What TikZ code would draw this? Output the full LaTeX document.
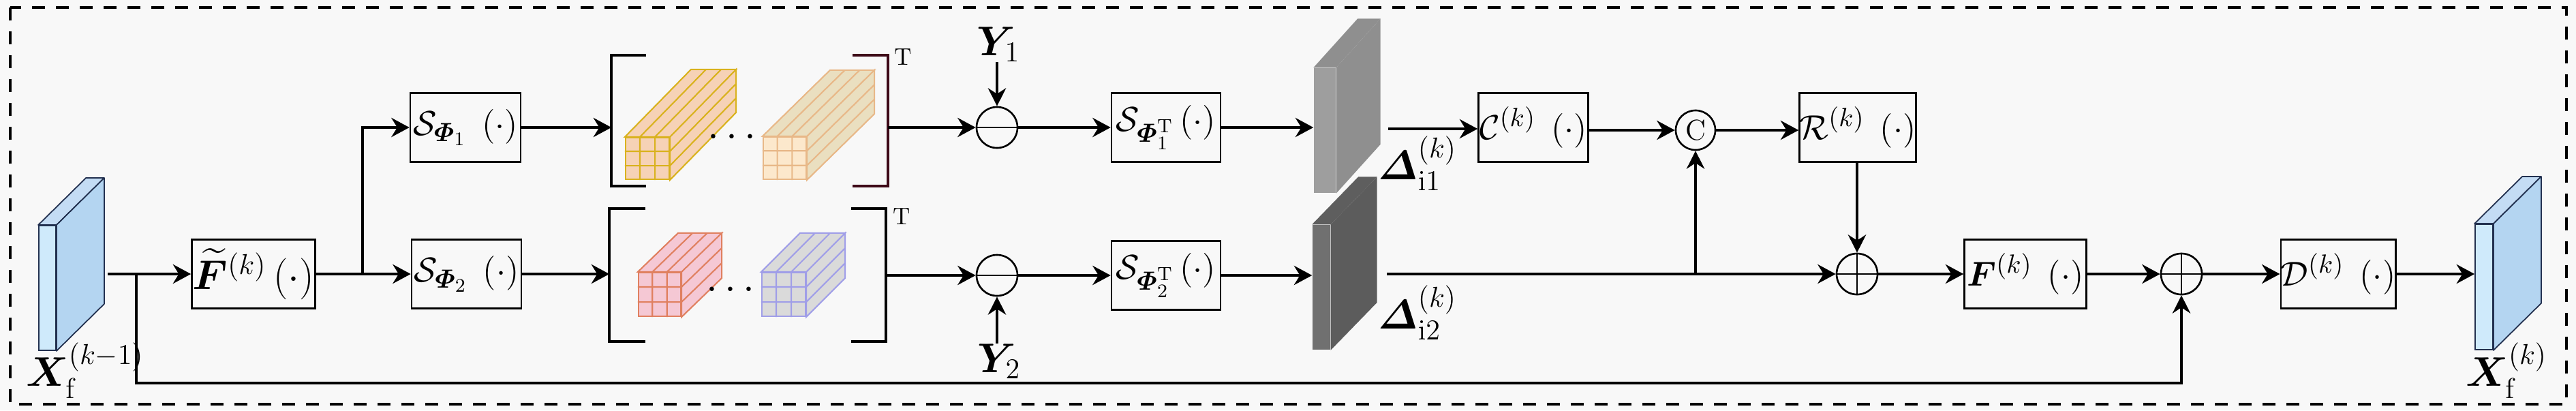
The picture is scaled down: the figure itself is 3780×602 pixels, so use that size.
\documentclass[tikz,border=0pt]{standalone}
\usepackage{amsmath,bm}
\usetikzlibrary{arrows.meta,calc,positioning}

\definecolor{paper}{HTML}{F8F8F8}
\definecolor{featfront}{HTML}{CFEAFB}
\definecolor{featside}{HTML}{B4D5F1}
\definecolor{feattop}{HTML}{C4DCF4}
\definecolor{featedge}{HTML}{22304F}
\definecolor{peach}{HTML}{F6D2B6}
\definecolor{gold}{HTML}{D9B21E}
\definecolor{cream}{HTML}{FCE8CC}
\definecolor{sage}{HTML}{EADFC0}
\definecolor{tanline}{HTML}{E8B888}
\definecolor{rose}{HTML}{F5C8D4}
\definecolor{coral}{HTML}{E08060}
\definecolor{ash}{HTML}{DADADA}
\definecolor{lilac}{HTML}{A09EE8}
\definecolor{maroon}{HTML}{3E0A18}

% cube with a 3x3 grid: name, centre, size, depth, front fill, side fill, line colour
\newcommand{\gridcube}[7]{%
  \node[cubeface, #3, fill=#5, draw=#7] (#1) at #2 {};
  \filldraw[fill=#6, draw=#7, line width=0.6pt]
    (#1.north west) -- (#1.north east) -- ($(#1.north east)+#4$) -- ($(#1.north west)+#4$) -- cycle
    (#1.north east) -- (#1.south east) -- ($(#1.south east)+#4$) -- ($(#1.north east)+#4$) -- cycle;
  \foreach \t in {0.333,0.667}
    \draw[#7, line width=0.6pt]
      ($(#1.north west)!\t!(#1.north east)$) -- ($(#1.south west)!\t!(#1.south east)$)
      ($(#1.north west)!\t!(#1.south west)$) -- ($(#1.north east)!\t!(#1.south east)$)
      ($(#1.north west)!\t!(#1.north east)$) -- ++#4
      ($(#1.north east)!\t!(#1.south east)$) -- ++#4;
}

% top and side faces of a feature slab: name, depth, top fill, side fill, edge
\newcommand{\slab}[5]{%
  \filldraw[fill=#3, draw=#5, line width=0.5pt, line join=round]
    (#1.north west) -- (#1.north east) -- ($(#1.north east)+#2$) -- ($(#1.north west)+#2$) -- cycle;
  \filldraw[fill=#4, draw=#5, line width=0.5pt, line join=round]
    (#1.north east) -- (#1.south east) -- ($(#1.south east)+#2$) -- ($(#1.north east)+#2$) -- cycle;
}

\begin{document}
\begin{tikzpicture}[x=0.01cm, y=-0.01cm,
    blockbox/.style  = {draw, line width=0.7pt, minimum height=1.01cm, inner sep=0, font=\fontsize{15.5}{18}\selectfont},
    opnode/.style    = {circle, draw, line width=0.75pt, minimum size=0.6cm, inner sep=0},
    flow/.style      = {-{Stealth[length=7.5pt,width=8pt]}, line width=1.3pt},
    feed/.style      = {-{Stealth[length=7.5pt,width=7.5pt]}, line width=1.0pt},
    cubeface/.style  = {rectangle, inner sep=0, line width=0.6pt},
    slabface/.style  = {rectangle, inner sep=0},
    mathlabel/.style = {font=\LARGE, inner sep=0},
    bracket/.style   = {line width=1.2pt}]

    \fill[paper] (0,0) rectangle (3780,602);
    \useasboundingbox (0,0) rectangle (3780,602);
    \draw[line width=1.4pt, dash pattern=on 0.19cm off 0.16cm] (15,11) rectangle (3766,593);

    % input and output features
    \node[slabface, fill=featfront, draw=featedge, line width=0.5pt, minimum width=0.25cm, minimum height=1.83cm] (Xin) at (69.5,422.5) {};
    \slab{Xin}{(70,-69)}{feattop}{featside}{featedge}
    \node[mathlabel, anchor=base west] (XinLab) at (38,566) {$\bm{X}_{\mathrm{f}}^{(k-1)}$};

    \node[slabface, fill=featfront, draw=featedge, line width=0.5pt, minimum width=0.26cm, minimum height=1.84cm] (Xout) at (3645,421) {};
    \slab{Xout}{(70,-69)}{feattop}{featside}{featedge}
    \node[mathlabel, anchor=base west] (XoutLab) at (3618,566) {$\bm{X}_{\mathrm{f}}^{(k)}$};

    % blocks
    \node[blockbox, minimum width=1.81cm, font=\LARGE] (Ftil) at (372,402) {$\widetilde{\bm{F}}^{(k)}\left(\cdot\right)$};
    \node[blockbox, minimum width=1.62cm] (S1)   at (683,187)   {$\mathcal{S}_{\bm{\varPhi}_1}\;\left(\cdot\right)$};
    \node[blockbox, minimum width=1.61cm] (S2)   at (684.5,402) {$\mathcal{S}_{\bm{\varPhi}_2}\;\left(\cdot\right)$};
    \node[blockbox, minimum width=1.60cm] (S1T)  at (1711,187)  {$\mathcal{S}_{\bm{\varPhi}_1^{\mathrm{T}}}\left(\cdot\right)$};
    \node[blockbox, minimum width=1.60cm] (S2T)  at (1711,404)  {$\mathcal{S}_{\bm{\varPhi}_2^{\mathrm{T}}}\left(\cdot\right)$};
    \node[blockbox, minimum width=1.61cm] (C)    at (2250,187)  {$\mathcal{C}^{(k)}\;\left(\cdot\right)$};
    \node[blockbox, minimum width=1.59cm] (R)    at (2726,187)  {$\mathcal{R}^{(k)}\;\left(\cdot\right)$};
    \node[blockbox, minimum width=1.79cm] (F)    at (2972,402)  {$\bm{F}^{(k)}\;\left(\cdot\right)$};
    \node[blockbox, minimum width=1.60cm] (D)    at (3431,402)  {$\mathcal{D}^{(k)}\;\left(\cdot\right)$};

    % sampling operators written out as stacked cubes
    \node[minimum width=4.04cm, minimum height=1.90cm, inner sep=0] (Phi1) at (1100,177) {};
    \node[minimum width=4.04cm, minimum height=1.93cm, inner sep=0] (Phi2) at (1097,403.5) {};
    \draw[bracket] ($(Phi1.north west)+(51,0)$) -- (Phi1.north west) -- (Phi1.south west) -- ++(51,0);
    \draw[bracket, maroon] ($(Phi1.north east)+(-52,0)$) -- (Phi1.north east) -- (Phi1.south east) -- ++(-52,0);
    \draw[bracket] ($(Phi2.north west)+(53,0)$) -- (Phi2.north west) -- (Phi2.south west) -- ++(53,0);
    \draw[bracket] ($(Phi2.north east)+(-51,0)$) -- (Phi2.north east) -- (Phi2.south east) -- ++(-51,0);
    \node[inner sep=0, anchor=west] (T1) at (1312,84)  {T};
    \node[inner sep=0, anchor=west] (T2) at (1310,318) {T};

    \gridcube{cubeA}{(950,232.5)}{minimum width=0.64cm, minimum height=0.61cm}{(97,-99)}{peach}{peach}{gold}
    \gridcube{cubeB}{(1151.5,232)}{minimum width=0.63cm, minimum height=0.62cm}{(99,-97)}{cream}{sage}{tanline}
    \gridcube{cubeC}{(968,432)}{minimum width=0.62cm, minimum height=0.64cm}{(59,-57)}{rose}{rose}{coral}
    \gridcube{cubeD}{(1150,432)}{minimum width=0.64cm, minimum height=0.64cm}{(57,-57)}{ash}{ash}{lilac}
    \node[mathlabel] (dots1) at (1079,202) {$\cdots$};
    \node[mathlabel] (dots2) at (1077,426) {$\cdots$};

    % residual operators
    \node[opnode] (minus1) at (1463,187) {};
    \node[opnode] (minus2) at (1463,404) {};
    \draw[line width=0.75pt] (minus1.west) -- (minus1.east);
    \draw[line width=0.75pt] (minus2.west) -- (minus2.east);
    \node[mathlabel, anchor=base west] (Y1) at (1433,81)  {$\bm{Y}_1$};
    \node[mathlabel, anchor=base west] (Y2) at (1434,546) {$\bm{Y}_2$};

    % residual feature slabs
    \node[slabface, fill=black!38, minimum width=0.32cm, minimum height=1.83cm] (D1) at (1944,191.5) {};
    \slab{D1}{(65,-72)}{black!44}{black!44}{none}
    \node[slabface, fill=black!56, minimum width=0.26cm, minimum height=1.83cm] (D2) at (1939,421.5) {};
    \slab{D2}{(68,-70)}{black!63}{black!64}{none}
    \node[mathlabel, anchor=base west] (D1Lab) at (2022,263) {$\bm{\varDelta}_{\mathrm{i1}}^{(k)}$};
    \node[mathlabel, anchor=base west] (D2Lab) at (2022,482) {$\bm{\varDelta}_{\mathrm{i2}}^{(k)}$};

    \node[opnode, minimum size=0.58cm, font=\large] (cat) at (2488,191) {C};
    \node[opnode] (plus1) at (2725,402) {};
    \node[opnode] (plus2) at (3201,402) {};
    \draw[line width=0.75pt] (plus1.west) -- (plus1.east) (plus1.north) -- (plus1.south);
    \draw[line width=0.75pt] (plus2.west) -- (plus2.east) (plus2.north) -- (plus2.south);

    % free ends
    \coordinate (XinOut) at (158,402);
    \coordinate (skip)   at (200,402);
    \coordinate (skipLow) at (200,562);
    \coordinate (split)  at (532,402);
    \coordinate (D1out)  at (2037,189);
    \coordinate (D2out)  at (2035,402);

    % connectors
    \draw[flow] (XinOut) -- (Ftil.west);
    \draw[line width=1.3pt] (Ftil.east) -- (split);
    \draw[flow] (split) |- (S1.west);
    \draw[flow] (split) -- (S2.west);
    \draw[flow] (S1.east) -- (S1.east -| Phi1.west);
    \draw[flow] (S2.east) -- (S2.east -| Phi2.west);
    \draw[flow] (Phi1.east |- minus1.west) -- (minus1.west);
    \draw[flow] (Phi2.east |- minus2.west) -- (minus2.west);
    \draw[feed] (Y1.south -| minus1) -- (minus1.north);
    \draw[feed] (Y2.north -| minus2) -- (minus2.south);
    \draw[flow] (minus1.east) -- (S1T.west);
    \draw[flow] (minus2.east) -- (S2T.west);
    \draw[flow] (S1T.east) -- (S1T.east -| D1.west);
    \draw[flow] (S2T.east) -- (S2T.east -| D2.west);
    \draw[flow] (D1out) -- (D1out -| C.west);
    \draw[flow] (C.east |- cat) -- (cat.west);
    \draw[flow] (cat.east) -- (cat.east -| R.west);
    \draw[feed] (R.south -| plus1) -- (plus1.north);
    \draw[flow] (D2out) -- (plus1.west);
    \draw[feed] (D2out -| cat) -- (cat.south);
    \draw[flow] (plus1.east) -- (F.west);
    \draw[flow] (F.east) -- (plus2.west);
    \draw[flow] (plus2.east) -- (D.west);
    \draw[flow] (D.east) -- (D.east -| Xout.west);
    \draw[feed] (skip) -- (skipLow) -| (plus2.south);
\end{tikzpicture}
\end{document}
